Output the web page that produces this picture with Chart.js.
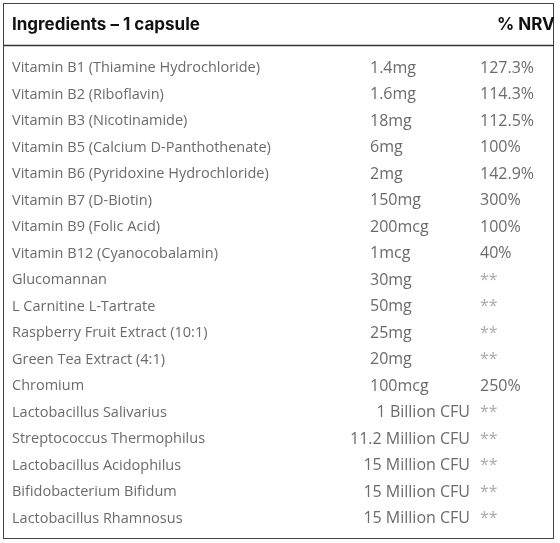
<!DOCTYPE html>
<html>
<head>
<meta charset="utf-8">
<script src="https://cdn.jsdelivr.net/npm/chart.js@4"></script>
<style>
  html, body { margin: 0; padding: 0; background: #fff; }
  #wrap { position: absolute; left: 3px; top: 3px; width: 551px; height: 536px; border: 1px solid #444; box-sizing: border-box; }
  #tabla { position: absolute; left: 0; top: 0; }
</style>
</head>
<body>
<div id="wrap"></div>
<canvas id="tabla" width="560" height="543"></canvas>
<script>
// Datos de la tabla
const ingredientes = [
  'Vitamin B1 (Thiamine Hydrochloride)', 'Vitamin B2 (Riboflavin)', 'Vitamin B3 (Nicotinamide)',
  'Vitamin B5 (Calcium D-Panthothenate)', 'Vitamin B6 (Pyridoxine Hydrochloride)', 'Vitamin B7 (D-Biotin)',
  'Vitamin B9 (Folic Acid)', 'Vitamin B12 (Cyanocobalamin)', 'Glucomannan', 'L Carnitine L-Tartrate',
  'Raspberry Fruit Extract (10:1)', 'Green Tea Extract (4:1)', 'Chromium', 'Lactobacillus Salivarius',
  'Streptococcus Thermophilus', 'Lactobacillus Acidophilus', 'Bifidobacterium Bifidum', 'Lactobacillus Rhamnosus'
];
const cantidades = [
  '1.4mg', '1.6mg', '18mg', '6mg', '2mg', '150mg', '200mcg', '1mcg', '30mg', '50mg', '25mg', '20mg',
  '100mcg', '1 Billion CFU', '11.2 Million CFU', '15 Million CFU', '15 Million CFU', '15 Million CFU'
];
const nrv = [
  '127.3%', '114.3%', '112.5%', '100%', '142.9%', '300%', '100%', '40%', '**', '**', '**', '**',
  '250%', '**', '**', '**', '**', '**'
];
const titulo = 'Ingredients – 1 capsule';
const tituloNrv = '% NRV';

// Dibuja los textos de cada fila usando la escala y
const textoTabla = {
  id: 'textoTabla',
  afterDraw(chart) {
    const ctx = chart.ctx;
    const y = chart.scales.y;
    ctx.save();
    ctx.textBaseline = 'middle';
    ctx.fillStyle = '#111';
    ctx.font = 'bold 17px Inter, "Noto Sans", sans-serif';
    ctx.textAlign = 'left';
    ctx.fillText(titulo, 12, 25);
    ctx.fillText(tituloNrv, 497, 25);
    ctx.strokeStyle = '#333';
    ctx.lineWidth = 1.5;
    ctx.beginPath();
    ctx.moveTo(4, 45.5);
    ctx.lineTo(554, 45.5);
    ctx.stroke();

    ingredientes.forEach((nombre, i) => {
      const py = y.getPixelForValue(i);
      ctx.fillStyle = '#6b6b6b';
      ctx.font = '14.5px "Open Sans", sans-serif';
      ctx.textAlign = 'left';
      ctx.fillText(nombre, 12, py);
      ctx.font = '16px "Open Sans", sans-serif';
      if (cantidades[i].includes('CFU')) {
        ctx.textAlign = 'right';
        ctx.fillText(cantidades[i], 470, py);
      } else {
        ctx.fillText(cantidades[i], 370, py);
      }
      ctx.textAlign = 'left';
      ctx.fillStyle = nrv[i] === '**' ? '#aaa' : '#6b6b6b';
      ctx.fillText(nrv[i], 480, py);
    });
    ctx.restore();
  }
};

new Chart(document.getElementById('tabla'), {
  type: 'bar',
  data: { labels: ingredientes, datasets: [{ data: ingredientes.map(() => 0) }] },
  options: {
    responsive: false,
    animation: false,
    indexAxis: 'y',
    layout: { padding: { top: 55, bottom: 11, left: 0, right: 0 } },
    plugins: { legend: { display: false }, tooltip: { enabled: false } },
    scales: {
      x: { display: false, min: 0, max: 1 },
      y: { display: false }
    }
  },
  plugins: [textoTabla]
});
</script>
</body>
</html>
